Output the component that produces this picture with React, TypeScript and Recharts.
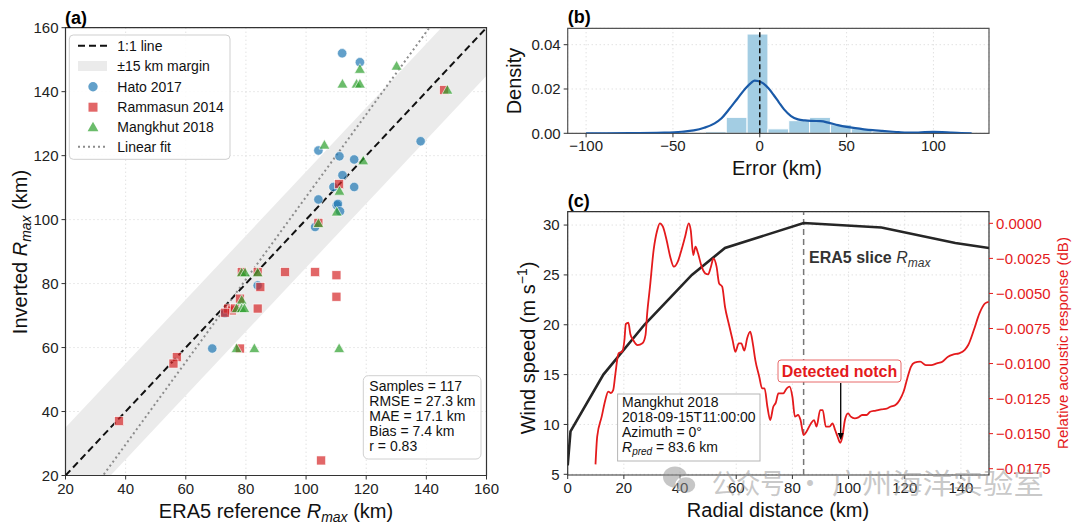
import React from "react";
import {
  Area,
  CartesianGrid,
  ComposedChart,
  Line,
  ReferenceArea,
  ReferenceLine,
  Scatter,
  XAxis,
  YAxis,
} from "recharts";

const FONT = '"Liberation Sans", Arial, sans-serif';
const RED = "#e41a1c";

// ---------- (a) ERA5 vs inverted Rmax ----------
const ticksA = [20, 40, 60, 80, 100, 120, 140, 160];
const MARGIN_KM = 15;
const FIT_SLOPE = 1.29;
const FIT_INTERCEPT = -21.9;
const refEnds = [20, 160];

const hatoRef = [112.0, 117.9, 138.1, 104.1, 111.1, 116.0, 112.1, 109.1, 116.0, 104.1, 110.2, 110.6, 111.3, 103.0, 83.9, 68.8, 73.0];
const hatoInv = [152.0, 149.2, 124.5, 121.6, 119.8, 118.8, 113.9, 110.2, 110.2, 106.3, 104.5, 104.9, 102.6, 97.7, 79.4, 59.7, 70.7];

const ramRef = [145.9, 111.0, 104.1, 78.6, 83.9, 93.0, 103.0, 110.1, 84.8, 110.1, 78.0, 83.9, 74.1, 75.3, 73.0, 76.4, 78.0, 105.0, 57.0, 55.9, 37.8];
const ramInv = [140.5, 111.1, 99.0, 83.6, 83.6, 83.6, 83.6, 82.6, 78.9, 75.9, 75.3, 72.2, 72.2, 71.6, 70.9, 72.2, 59.7, 24.7, 57.0, 55.0, 37.0];

const manRef = [130.1, 117.9, 112.1, 116.8, 117.9, 147.0, 106.1, 119.0, 111.1, 110.2, 104.1, 78.6, 79.7, 83.9, 78.6, 76.9, 78.6, 79.5, 76.9, 82.8, 111.0];
const manInv = [148.0, 147.0, 142.4, 142.4, 142.4, 140.5, 123.3, 118.4, 108.9, 102.4, 98.8, 83.4, 83.4, 83.4, 74.8, 72.2, 72.2, 72.2, 59.7, 59.7, 59.7];

const statsLines = ["Samples = 117", "RMSE = 27.3 km", "MAE = 17.1 km", "Bias = 7.4 km", "r = 0.83"];

// ---------- (b) error histogram + KDE ----------
const binEdges = [-31.3, -19.3, -7.3, 4.7, 16.7, 28.7, 40.7, 52.7, 64.7, 76.7, 88.7, 100.7];
const binDensity = [0.00075, 0.0072, 0.0448, 0.002, 0.0057, 0.0072, 0.0039, 0.0021, 0.0008, 0, 0.0006];
const kdeX = [-100, -75, -55, -45, -38, -32, -26, -22, -18, -13, -8, -5, -3, -1, 2, 5, 8, 11, 14, 18, 22, 26, 30, 35, 40, 45, 50, 55, 60, 65, 70, 75, 80, 85, 90, 95, 100, 105, 110, 116, 122];
const kdeY = [0, 0.00005, 0.0003, 0.0007, 0.0013, 0.0025, 0.0045, 0.0068, 0.0105, 0.0155, 0.0205, 0.0228, 0.0238, 0.0236, 0.0225, 0.0203, 0.0173, 0.014, 0.0108, 0.0078, 0.0063, 0.0058, 0.0056, 0.0055, 0.0047, 0.0037, 0.0029, 0.0023, 0.0018, 0.0014, 0.0011, 0.0008, 0.0005, 0.0003, 0.0003, 0.0005, 0.0006, 0.0005, 0.0003, 0.0001, 0];

// ---------- (c) radial profile ----------
const windR = [0, 1, 12.7, 27.3, 44.2, 56, 84, 111.7, 138, 150];
const windV = [5.9, 9.3, 15, 20, 25, 27.7, 30.2, 29.75, 28.2, 27.7];
const ERA5_RMAX = 84;
const NOTCH_R = 97.2;

const acousticProfile: [number, number][] = [
  [9.9, -0.01719], [10.5, -0.01522], [12.1, -0.01379], [13.4, -0.0126], [14.4, -0.012], [15.4, -0.0121],
  [16.2, -0.0119], [17.0, -0.0107], [18.1, -0.00927], [19.4, -0.00915], [20.2, -0.00832], [20.7, -0.00718],
  [21.6, -0.00709], [22.3, -0.00789], [23.3, -0.00832], [24.9, -0.00868], [26.6, -0.00856], [27.7, -0.00797],
  [28.3, -0.00642], [29.3, -0.00452], [30.6, -0.0019], [31.9, -0.00048], [32.8, 0], [33.9, -0.00024],
  [35.2, -0.00119], [36.5, -0.00238], [37.8, -0.00309], [39.2, -0.00273], [40.5, -0.0019], [41.8, -0.00095],
  [43.1, 0], [43.8, -0.00048], [44.7, -0.00226], [45.5, -0.00166], [46.4, -0.00214], [47.7, -0.00309],
  [49.0, -0.00357], [50.0, -0.00364], [51.0, -0.00309], [51.9, -0.0025], [53.0, -0.00309], [53.9, -0.00428],
  [55.0, -0.00452], [56.0, -0.00595], [57.3, -0.00713], [58.7, -0.00832], [59.7, -0.00916], [60.9, -0.00856],
  [61.8, -0.00856], [62.9, -0.00908], [63.9, -0.0082], [65.0, -0.00773], [65.9, -0.00856], [66.8, -0.00975],
  [68.2, -0.01094], [69.2, -0.01177], [70.1, -0.01177], [71.1, -0.01308], [72.1, -0.01403], [73.2, -0.01308],
  [74.1, -0.01279], [75.0, -0.01213], [76.7, -0.01213], [78.0, -0.01177], [79.0, -0.01165], [80.0, -0.01237],
  [80.9, -0.01379], [82.0, -0.01367], [82.9, -0.01403], [84.0, -0.0151], [85.0, -0.01486], [86.6, -0.01427],
  [87.7, -0.01403], [88.6, -0.0145], [89.9, -0.01332], [90.8, -0.01332], [91.9, -0.0145], [93.2, -0.0145],
  [94.3, -0.01427], [95.2, -0.01474], [96.1, -0.01522], [97.0, -0.01565], [97.8, -0.01522], [98.7, -0.01403],
  [99.8, -0.01355], [100.8, -0.01379], [102.2, -0.01391], [103.5, -0.01384], [104.8, -0.01367], [106.4, -0.01367],
  [107.7, -0.01344], [109.7, -0.01336], [111.7, -0.01327], [113.6, -0.01322], [114.9, -0.01308], [116.7, -0.01296],
  [118.2, -0.0126], [119.6, -0.012], [120.9, -0.01106], [122.2, -0.01023], [123.5, -0.00994], [125.5, -0.00987],
  [127.5, -0.01011], [129.4, -0.01011], [131.4, -0.00999], [133.4, -0.00987], [135.4, -0.00951], [137.4, -0.00935],
  [139.3, -0.00927], [141.3, -0.00904], [142.6, -0.00868], [144.6, -0.00761], [146.6, -0.00642], [148.6, -0.00571],
  [149.9, -0.00561],
];
const windTicks = [5, 10, 15, 20, 25, 30];
const acousticTicks = [0, -0.0025, -0.005, -0.0075, -0.01, -0.0125, -0.015, -0.0175];
const radialTicks = [0, 20, 40, 60, 80, 100, 120, 140];

// ---------- derived tables ----------
const pts = (xs: number[], ys: number[]) => xs.map((x, i) => ({ x, y: ys[i] }));
const hatoPts = pts(hatoRef, hatoInv);
const ramPts = pts(ramRef, ramInv);
const manPts = pts(manRef, manInv);
const lineRowsA = refEnds.map((x) => ({
  x,
  one: x,
  band: [x - MARGIN_KM, x + MARGIN_KM],
  fit: FIT_SLOPE * x + FIT_INTERCEPT,
}));
const kdeRows = kdeX.map((x, i) => ({ x, d: kdeY[i] }));
const profileRows = [
  ...windR.map((x, i) => ({ x, w: windV[i] as number | undefined, r: undefined as number | undefined })),
  ...acousticProfile.map(([x, r]) => ({ x, w: undefined as number | undefined, r })),
].sort((a, b) => a.x - b.x);

const minus = (v: number, d: number) => (v < 0 ? "\u2212" : "") + Math.abs(v).toFixed(d);

const tick = { fontSize: 15, fill: "#222" };
const tickLine = { stroke: "#333" };
const grid = { stroke: "#d4d4d4", strokeDasharray: "1 3" };

const CircleMark = (p: any) =>
  p.cx == null ? null : (
    <circle cx={p.cx} cy={p.cy} r={4.7} fill="#1f77b4" fillOpacity={0.7} stroke="#fff" strokeWidth={0.6} />
  );
const SquareMark = (p: any) =>
  p.cx == null ? null : (
    <rect x={p.cx - 4.5} y={p.cy - 4.5} width={9} height={9} fill="#d62728" fillOpacity={0.7} stroke="#fff" strokeWidth={0.6} />
  );
const TriMark = (p: any) =>
  p.cx == null ? null : (
    <polygon
      points={`${p.cx},${p.cy - 5.6} ${p.cx - 5.4},${p.cy + 4} ${p.cx + 5.4},${p.cy + 4}`}
      fill="#2ca02c"
      fillOpacity={0.7}
      stroke="#fff"
      strokeWidth={0.6}
    />
  );

const NotchArrow = (p: any) => {
  const { x1, y1, x2, y2 } = p;
  if (x1 == null) return null;
  return (
    <g>
      <line x1={x1} y1={y1} x2={x2} y2={y2 - 5} stroke="#000" strokeWidth={1.3} />
      <polygon points={`${x2},${y2} ${x2 - 3},${y2 - 7} ${x2 + 3},${y2 - 7}`} fill="#000" />
    </g>
  );
};

function PanelA() {
  return (
    <ComposedChart
      width={500}
      height={529}
      data={lineRowsA}
      margin={{ top: 27.7, right: 13.5, bottom: 23.5, left: 25.5 }}
    >
      <CartesianGrid {...grid} />
      <XAxis
        type="number"
        dataKey="x"
        domain={[20, 160]}
        ticks={ticksA}
        allowDataOverflow
        interval={0}
        height={30}
        tick={tick}
        tickLine={tickLine}
        tickSize={4}
        tickMargin={4}
        axisLine={false}
      />
      <YAxis
        type="number"
        domain={[20, 160]}
        ticks={ticksA}
        allowDataOverflow
        interval={0}
        width={40}
        tick={tick}
        tickLine={tickLine}
        tickSize={4}
        tickMargin={3}
        axisLine={false}
      />
      <Area dataKey="band" type="linear" fill="#ebebeb" fillOpacity={1} stroke="none" activeDot={false} isAnimationActive={false} />
      <Line dataKey="fit" type="linear" stroke="#8c8c8c" strokeWidth={2} strokeDasharray="2 3" dot={false} activeDot={false} isAnimationActive={false} />
      <Line dataKey="one" type="linear" stroke="#111" strokeWidth={2} strokeDasharray="7 4" dot={false} activeDot={false} isAnimationActive={false} />
      <Scatter data={hatoPts} dataKey="y" shape={CircleMark} isAnimationActive={false} />
      <Scatter data={ramPts} dataKey="y" shape={SquareMark} isAnimationActive={false} />
      <Scatter data={manPts} dataKey="y" shape={TriMark} isAnimationActive={false} />
      <ReferenceArea x1={20} x2={160} y1={20} y2={160} fill="none" stroke="#333" strokeWidth={1.2} />
    </ComposedChart>
  );
}

function PanelB() {
  return (
    <ComposedChart
      width={500}
      height={180}
      data={kdeRows}
      margin={{ top: 28.3, right: 11, bottom: 21.7, left: 27.7 }}
    >
      <CartesianGrid {...grid} />
      <XAxis
        type="number"
        dataKey="x"
        domain={[-110.6, 132]}
        ticks={[-100, -50, 0, 50, 100]}
        allowDataOverflow
        interval={0}
        height={25}
        tick={tick}
        tickLine={tickLine}
        tickSize={4}
        tickMargin={3}
        axisLine={false}
        tickFormatter={(v: number) => minus(v, 0)}
      />
      <YAxis
        type="number"
        domain={[0, 0.0474]}
        ticks={[0, 0.02, 0.04]}
        allowDataOverflow
        interval={0}
        width={40}
        tick={tick}
        tickLine={tickLine}
        tickSize={4}
        tickMargin={3}
        axisLine={false}
        tickFormatter={(v: number) => v.toFixed(2)}
      />
      {binDensity.map((h, i) =>
        h > 0 ? (
          <ReferenceArea
            key={i}
            x1={binEdges[i]}
            x2={binEdges[i + 1]}
            y1={0}
            y2={h}
            fill="#9ecae1"
            fillOpacity={0.95}
            stroke="#fff"
            strokeWidth={1}
          />
        ) : null
      )}
      <Line dataKey="d" type="monotone" stroke="#1a5aa8" strokeWidth={2.2} dot={false} activeDot={false} isAnimationActive={false} />
      <ReferenceLine x={0} stroke="#111" strokeWidth={1.5} strokeDasharray="5 3" />
      <ReferenceArea x1={-110.6} x2={132} y1={0} y2={0.0474} fill="none" stroke="#555" strokeWidth={1.2} />
    </ComposedChart>
  );
}

function PanelC() {
  return (
    <ComposedChart
      width={580}
      height={349}
      data={profileRows}
      margin={{ top: 31.7, right: 11, bottom: 29, left: 27.7 }}
    >
      <CartesianGrid {...grid} yAxisId="w" />
      <XAxis
        type="number"
        dataKey="x"
        domain={[0, 150]}
        ticks={radialTicks}
        allowDataOverflow
        interval={0}
        height={25}
        tick={tick}
        tickLine={tickLine}
        tickSize={4}
        tickMargin={3}
        axisLine={false}
      />
      <YAxis
        yAxisId="w"
        type="number"
        domain={[4.93, 31.34]}
        ticks={windTicks}
        allowDataOverflow
        interval={0}
        width={40}
        tick={tick}
        tickLine={tickLine}
        tickSize={4}
        tickMargin={4}
        axisLine={false}
      />
      <YAxis
        yAxisId="r"
        orientation="right"
        type="number"
        domain={[-0.01795, 0.00083]}
        ticks={acousticTicks}
        allowDataOverflow
        interval={0}
        width={80}
        tick={{ fontSize: 15, fill: RED }}
        tickLine={{ stroke: RED }}
        tickSize={4}
        tickMargin={3}
        axisLine={false}
        tickFormatter={(v: number) => minus(v, 4)}
      />
      <ReferenceLine yAxisId="w" x={ERA5_RMAX} stroke="#777" strokeWidth={1.5} strokeDasharray="6 4" />
      <Line yAxisId="w" dataKey="w" type="linear" stroke="#262626" strokeWidth={2.6} dot={false} activeDot={false} connectNulls isAnimationActive={false} />
      <Line yAxisId="r" dataKey="r" type="monotone" stroke={RED} strokeWidth={1.8} dot={false} activeDot={false} connectNulls isAnimationActive={false} />
      <ReferenceLine
        yAxisId="r"
        segment={[
          { x: NOTCH_R, y: -0.01139 },
          { x: NOTCH_R, y: -0.01545 },
        ]}
        shape={NotchArrow}
      />
      <ReferenceArea yAxisId="w" x1={0} x2={150} y1={4.93} y2={31.34} fill="none" stroke="#333" strokeWidth={1.2} />
    </ComposedChart>
  );
}

function Overlay() {
  const legendY = [45.7, 66, 86.7, 107.2, 127.3, 146.8];
  const legendText = ["1:1 line", "\u00b115 km margin", "Hato 2017", "Rammasun 2014", "Mangkhut 2018", "Linear fit"];
  const cjk = '"Noto Sans CJK SC", sans-serif';
  return (
    <svg width={1080} height={529} style={{ position: "absolute", left: 0, top: 0, fontFamily: FONT }}>
      {/* panel labels */}
      <text x={65} y={24} fontSize={18} fontWeight="bold" fill="#000">(a)</text>
      <text x={567.7} y={23} fontSize={18} fontWeight="bold" fill="#000">(b)</text>
      <text x={567.7} y={206.5} fontSize={18} fontWeight="bold" fill="#000">(c)</text>

      {/* axis titles */}
      <text x={276} y={518} fontSize={20} textAnchor="middle" fill="#111">
        ERA5 reference <tspan fontStyle="italic">R</tspan>
        <tspan fontStyle="italic" fontSize={14} dy={4}>max</tspan>
        <tspan dy={-4}> (km)</tspan>
      </text>
      <text x={27} y={252} fontSize={20} textAnchor="middle" fill="#111" transform="rotate(-90 27 252)">
        Inverted <tspan fontStyle="italic">R</tspan>
        <tspan fontStyle="italic" fontSize={14} dy={4}>max</tspan>
        <tspan dy={-4}> (km)</tspan>
      </text>
      <text x={521} y={81} fontSize={20} textAnchor="middle" fill="#111" transform="rotate(-90 521 81)">Density</text>
      <text x={777} y={175} fontSize={20} textAnchor="middle" fill="#111">Error (km)</text>
      <text x={535} y={348} fontSize={20} textAnchor="middle" fill="#111" transform="rotate(-90 535 348)">
        Wind speed (m s<tspan fontSize={14} dy={-8}>{"\u22121"}</tspan>
        <tspan dy={8}>)</tspan>
      </text>
      <text x={778} y={517} fontSize={20} textAnchor="middle" fill="#111">Radial distance (km)</text>
      <text x={1068} y={343} fontSize={15} textAnchor="middle" fill={RED} transform="rotate(-90 1068 343)">
        Relative acoustic response (dB)
      </text>

      {/* legend (a) */}
      <rect x={69.3} y={35} width={160.7} height={124.3} rx={4} fill="#fff" fillOpacity={0.85} stroke="#cfcfcf" />
      <line x1={78} x2={107} y1={legendY[0]} y2={legendY[0]} stroke="#111" strokeWidth={2} strokeDasharray="7 4" />
      <rect x={78} y={legendY[1] - 5} width={29} height={10} fill="#ebebeb" />
      <circle cx={93} cy={legendY[2]} r={4.7} fill="#1f77b4" fillOpacity={0.7} />
      <rect x={88.5} y={legendY[3] - 4.5} width={9} height={9} fill="#d62728" fillOpacity={0.7} />
      <polygon points={`93,${legendY[4] - 5.6} 87.6,${legendY[4] + 4} 98.4,${legendY[4] + 4}`} fill="#2ca02c" fillOpacity={0.7} />
      <line x1={78} x2={107} y1={legendY[5]} y2={legendY[5]} stroke="#8c8c8c" strokeWidth={2} strokeDasharray="2 3" />
      {legendText.map((t, i) => (
        <text key={t} x={117.3} y={legendY[i] + 5} fontSize={14} fill="#111">{t}</text>
      ))}

      {/* stats box (a) */}
      <rect x={363.3} y={375.7} width={117.7} height={83.3} rx={5} fill="#fff" fillOpacity={0.85} stroke="#d0d0d0" />
      {statsLines.map((t, i) => (
        <text key={t} x={369.3} y={391 + i * 15} fontSize={14} fill="#111">{t}</text>
      ))}

      {/* annotations (c) */}
      <text x={809} y={263} fontSize={16} fontWeight="bold" fill="#333">
        ERA5 slice <tspan fontStyle="italic" fontWeight="normal">R</tspan>
        <tspan fontStyle="italic" fontWeight="normal" fontSize={12} dy={4}>max</tspan>
      </text>
      <rect x={778} y={360} width={123} height={22} rx={3} fill="#fff" stroke="#e86a6a" />
      <text x={839.5} y={377} fontSize={16} fontWeight="bold" fill={RED} textAnchor="middle">Detected notch</text>

      <rect x={617.6} y={394} width={142.4} height={67} fill="#fff" fillOpacity={0.85} stroke="#b5b5b5" />
      <text x={622} y={406.7} fontSize={14} fill="#111">Mangkhut 2018</text>
      <text x={622} y={421.7} fontSize={14} fill="#111">2018-09-15T11:00:00</text>
      <text x={622} y={436.7} fontSize={14} fill="#111">Azimuth = 0°</text>
      <text x={622} y={451.5} fontSize={14} fill="#111">
        <tspan fontStyle="italic">R</tspan>
        <tspan fontStyle="italic" fontSize={10} dy={3}>pred</tspan>
        <tspan dy={-3}> = 83.6 km</tspan>
      </text>

      {/* watermark */}
      <g opacity={0.5}>
        <ellipse cx={675} cy={477} rx={12} ry={10.5} fill="#8f8f8f" />
        <ellipse cx={686} cy={485} rx={10} ry={8.5} fill="#8f8f8f" stroke="#fff" strokeWidth={1.5} />
      </g>
      <g fill="#9a9a9a" fillOpacity={0.55} fontFamily={cjk} fontSize={28}>
        <text x={711.7} y={494} textLength={73} lengthAdjust="spacingAndGlyphs">公众号</text>
        <text x={810} y={494} textAnchor="middle">·</text>
        <text x={831.7} y={494} textLength={212} lengthAdjust="spacingAndGlyphs">广州海洋实验室</text>
      </g>
    </svg>
  );
}

export default function App() {
  return (
    <div
      style={{
        position: "absolute",
        left: 0,
        top: 0,
        width: 1080,
        height: 529,
        background: "#fff",
        fontFamily: FONT,
        overflow: "hidden",
      }}
    >
      <div style={{ position: "absolute", left: 0, top: 0 }}>
        <PanelA />
      </div>
      <div style={{ position: "absolute", left: 500, top: 0 }}>
        <PanelB />
      </div>
      <div style={{ position: "absolute", left: 500, top: 180 }}>
        <PanelC />
      </div>
      <Overlay />
    </div>
  );
}
